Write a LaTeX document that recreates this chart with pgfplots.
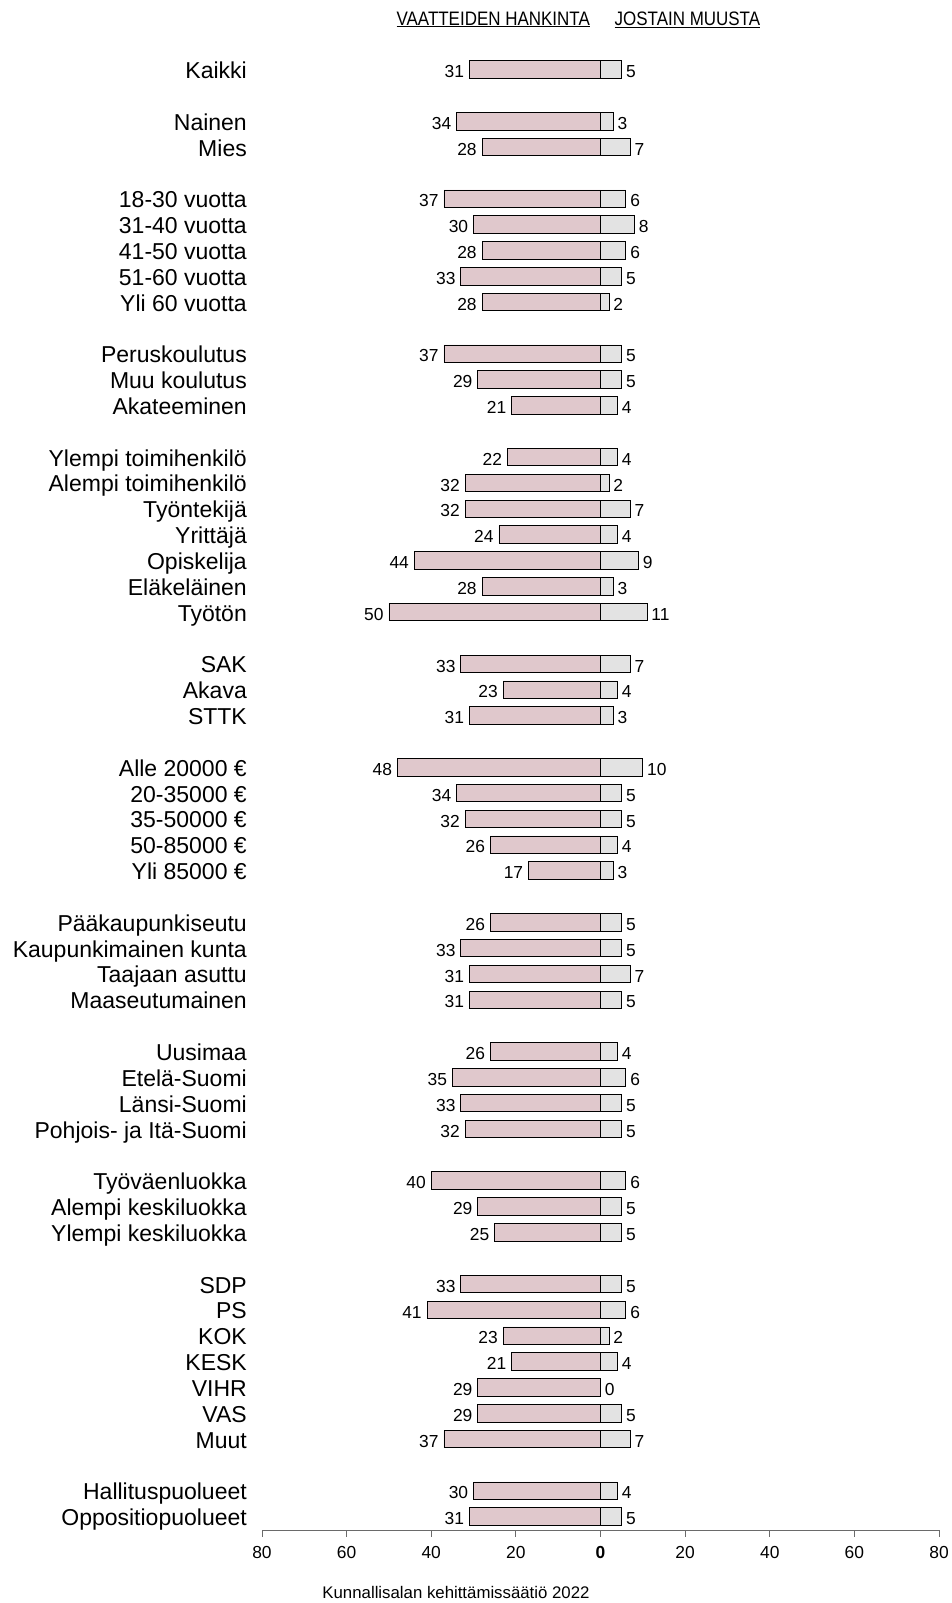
\documentclass[border=0pt]{standalone}
\usepackage{fontspec}
\setmainfont{Liberation Sans}
\usepackage{graphicx}
\usepackage{pgfplots}
\usepackage{pgfplotstable}
\pgfplotsset{compat=1.18}
\definecolor{pinkbar}{HTML}{E0C8CC}
\definecolor{graybar}{HTML}{E3E3E3}
\definecolor{axisgray}{HTML}{6A6A6A}
\pgfplotstableread[col sep=semicolon]{
pos;label;L;R
0;Kaikki;31;5
2;Nainen;34;3
3;Mies;28;7
5;18-30 vuotta;37;6
6;31-40 vuotta;30;8
7;41-50 vuotta;28;6
8;51-60 vuotta;33;5
9;Yli 60 vuotta;28;2
11;Peruskoulutus;37;5
12;Muu koulutus;29;5
13;Akateeminen;21;4
15;Ylempi toimihenkilö;22;4
16;Alempi toimihenkilö;32;2
17;Työntekijä;32;7
18;Yrittäjä;24;4
19;Opiskelija;44;9
20;Eläkeläinen;28;3
21;Työtön;50;11
23;SAK;33;7
24;Akava;23;4
25;STTK;31;3
27;Alle 20000 €;48;10
28;20-35000 €;34;5
29;35-50000 €;32;5
30;50-85000 €;26;4
31;Yli 85000 €;17;3
33;Pääkaupunkiseutu;26;5
34;Kaupunkimainen kunta;33;5
35;Taajaan asuttu;31;7
36;Maaseutumainen;31;5
38;Uusimaa;26;4
39;Etelä-Suomi;35;6
40;Länsi-Suomi;33;5
41;Pohjois- ja Itä-Suomi;32;5
43;Työväenluokka;40;6
44;Alempi keskiluokka;29;5
45;Ylempi keskiluokka;25;5
47;SDP;33;5
48;PS;41;6
49;KOK;23;2
50;KESK;21;4
51;VIHR;29;0
52;VAS;29;5
53;Muut;37;7
55;Hallituspuolueet;30;4
56;Oppositiopuolueet;31;5
}\datatable
\begin{document}
\begin{tikzpicture}
\path[use as bounding box] (0pt,0pt) rectangle (952pt,-1603pt);
\begin{axis}[
  at={(262pt,-1530pt)}, anchor=south west,
  scale only axis, width=677pt, height=1473.4pt,
  xmin=-80, xmax=80, ymin=-56.52, ymax=0.5,
  enlargelimits=false, clip=false,
  /pgf/number format/assume math mode=true,
  axis x line*=bottom, axis y line*=left,
  x axis line style={-, draw=axisgray, line width=0.9pt},
  y axis line style={draw=none},
  xtick={-80,-60,-40,-20,0,20,40,60,80},
  xticklabels={80,60,40,20,\textbf{0},20,40,60,80},
  xtick style={draw=axisgray, line width=0.9pt},
  major tick length=6.5pt, tick align=outside,
  xticklabel style={font=\fontsize{17.4}{20}\selectfont, text height=12.4pt, text depth=0pt, yshift=-6pt},
  ytick=data,
  yticklabels from table={\datatable}{label},
  ytick style={draw=none},
  yticklabel style={font=\fontsize{23}{27}\selectfont, inner sep=0pt, text height=16.5pt, text depth=0pt, xshift=-8.5pt, yshift=-0.8pt},
]
\addplot[xbar, bar width=17.5pt, bar shift=0pt, fill=pinkbar, draw=black, line width=0.8pt,
  nodes near coords={\pgfmathprintnumber{\pgfplotspointmeta}}, point meta=explicit,
  every node near coord/.append style={anchor=east, inner sep=0pt, text height=12.4pt, text depth=0pt, xshift=-5pt, yshift=-2pt, font=\fontsize{17.4}{20}\selectfont, black}]
  table[x expr=-\thisrow{L}, y expr=-\thisrow{pos}, meta=L]{\datatable};
\addplot[xbar, bar width=17.5pt, bar shift=0pt, fill=graybar, draw=black, line width=0.8pt,
  nodes near coords={\pgfmathprintnumber{\pgfplotspointmeta}}, point meta=explicit,
  every node near coord/.append style={anchor=west, inner sep=0pt, text height=12.4pt, text depth=0pt, xshift=4pt, yshift=-2pt, font=\fontsize{17.4}{20}\selectfont, black}]
  table[x expr=\thisrow{R}, y expr=-\thisrow{pos}, meta=R]{\datatable};
\end{axis}
\node[anchor=east, inner sep=0pt, font=\fontsize{19.5}{22}\selectfont] at (590pt,-19.4pt) {\scalebox{0.87}[1]{\underline{VAATTEIDEN HANKINTA}}};
\node[anchor=west, inner sep=0pt, font=\fontsize{19.5}{22}\selectfont] at (614.5pt,-19.4pt) {\scalebox{0.87}[1]{\underline{JOSTAIN MUUSTA}}};
\node[inner sep=0pt, font=\fontsize{16.8}{19}\selectfont] at (456pt,-1592pt) {Kunnallisalan kehittämissäätiö 2022};
\end{tikzpicture}
\end{document}
